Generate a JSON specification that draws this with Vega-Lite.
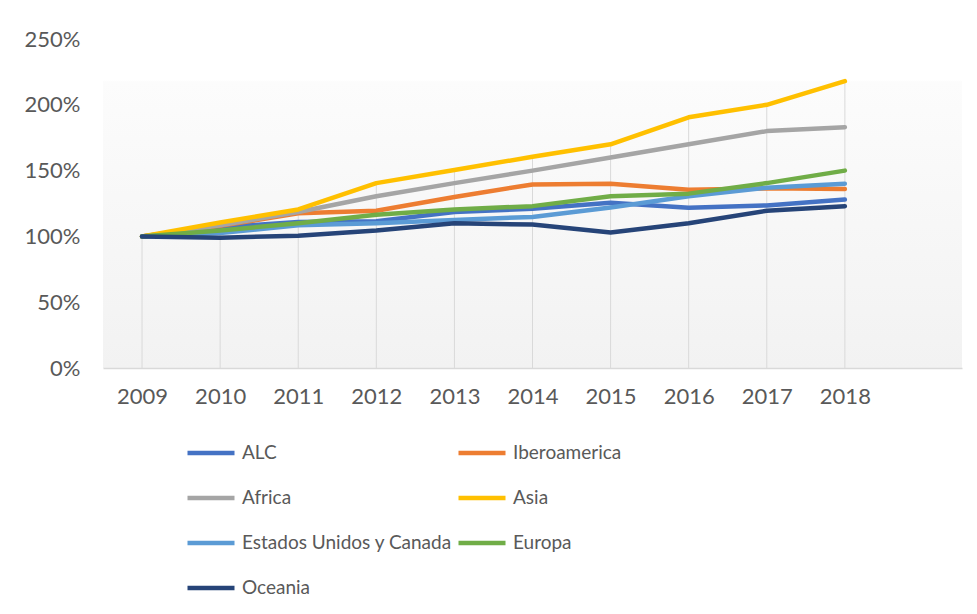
{
  "$schema": "https://vega.github.io/schema/vega-lite/v6.json",
  "width": 859,
  "height": 329,
  "autosize": {"type": "none"},
  "padding": {"left": 103, "top": 39, "right": 15, "bottom": 246},
  "background": "#ffffff",
  "config": {
    "font": "Lato",
    "view": {
      "stroke": null,
      "fill": {
        "gradient": "linear",
        "x1": 0, "y1": 0, "x2": 0, "y2": 1,
        "stops": [
          {"offset": 0, "color": "#ffffff"},
          {"offset": 0.125, "color": "#ffffff"},
          {"offset": 0.13, "color": "#fcfcfc"},
          {"offset": 1, "color": "#f2f2f2"}
        ]
      }
    }
  },
  "data": {
    "values": [
      {"region": "ALC", "year": 2009, "value": 1.00},
      {"region": "ALC", "year": 2010, "value": 1.07},
      {"region": "ALC", "year": 2011, "value": 1.11},
      {"region": "ALC", "year": 2012, "value": 1.115},
      {"region": "ALC", "year": 2013, "value": 1.185},
      {"region": "ALC", "year": 2014, "value": 1.21},
      {"region": "ALC", "year": 2015, "value": 1.255},
      {"region": "ALC", "year": 2016, "value": 1.218},
      {"region": "ALC", "year": 2017, "value": 1.235},
      {"region": "ALC", "year": 2018, "value": 1.28},
      {"region": "Iberoamerica", "year": 2009, "value": 1.00},
      {"region": "Iberoamerica", "year": 2010, "value": 1.08},
      {"region": "Iberoamerica", "year": 2011, "value": 1.175},
      {"region": "Iberoamerica", "year": 2012, "value": 1.195},
      {"region": "Iberoamerica", "year": 2013, "value": 1.30},
      {"region": "Iberoamerica", "year": 2014, "value": 1.395},
      {"region": "Iberoamerica", "year": 2015, "value": 1.40},
      {"region": "Iberoamerica", "year": 2016, "value": 1.355},
      {"region": "Iberoamerica", "year": 2017, "value": 1.365},
      {"region": "Iberoamerica", "year": 2018, "value": 1.36},
      {"region": "Africa", "year": 2009, "value": 1.00},
      {"region": "Africa", "year": 2010, "value": 1.085},
      {"region": "Africa", "year": 2011, "value": 1.185},
      {"region": "Africa", "year": 2012, "value": 1.305},
      {"region": "Africa", "year": 2013, "value": 1.405},
      {"region": "Africa", "year": 2014, "value": 1.50},
      {"region": "Africa", "year": 2015, "value": 1.60},
      {"region": "Africa", "year": 2016, "value": 1.70},
      {"region": "Africa", "year": 2017, "value": 1.80},
      {"region": "Africa", "year": 2018, "value": 1.83},
      {"region": "Asia", "year": 2009, "value": 1.00},
      {"region": "Asia", "year": 2010, "value": 1.105},
      {"region": "Asia", "year": 2011, "value": 1.205},
      {"region": "Asia", "year": 2012, "value": 1.405},
      {"region": "Asia", "year": 2013, "value": 1.505},
      {"region": "Asia", "year": 2014, "value": 1.605},
      {"region": "Asia", "year": 2015, "value": 1.70},
      {"region": "Asia", "year": 2016, "value": 1.905},
      {"region": "Asia", "year": 2017, "value": 2.00},
      {"region": "Asia", "year": 2018, "value": 2.18},
      {"region": "Estados Unidos y Canada", "year": 2009, "value": 1.00},
      {"region": "Estados Unidos y Canada", "year": 2010, "value": 1.025},
      {"region": "Estados Unidos y Canada", "year": 2011, "value": 1.085},
      {"region": "Estados Unidos y Canada", "year": 2012, "value": 1.10},
      {"region": "Estados Unidos y Canada", "year": 2013, "value": 1.125},
      {"region": "Estados Unidos y Canada", "year": 2014, "value": 1.148},
      {"region": "Estados Unidos y Canada", "year": 2015, "value": 1.22},
      {"region": "Estados Unidos y Canada", "year": 2016, "value": 1.305},
      {"region": "Estados Unidos y Canada", "year": 2017, "value": 1.37},
      {"region": "Estados Unidos y Canada", "year": 2018, "value": 1.40},
      {"region": "Europa", "year": 2009, "value": 1.00},
      {"region": "Europa", "year": 2010, "value": 1.045},
      {"region": "Europa", "year": 2011, "value": 1.10},
      {"region": "Europa", "year": 2012, "value": 1.165},
      {"region": "Europa", "year": 2013, "value": 1.205},
      {"region": "Europa", "year": 2014, "value": 1.23},
      {"region": "Europa", "year": 2015, "value": 1.305},
      {"region": "Europa", "year": 2016, "value": 1.325},
      {"region": "Europa", "year": 2017, "value": 1.405},
      {"region": "Europa", "year": 2018, "value": 1.50},
      {"region": "Oceania", "year": 2009, "value": 1.00},
      {"region": "Oceania", "year": 2010, "value": 0.99},
      {"region": "Oceania", "year": 2011, "value": 1.005},
      {"region": "Oceania", "year": 2012, "value": 1.045},
      {"region": "Oceania", "year": 2013, "value": 1.10},
      {"region": "Oceania", "year": 2014, "value": 1.09},
      {"region": "Oceania", "year": 2015, "value": 1.03},
      {"region": "Oceania", "year": 2016, "value": 1.10},
      {"region": "Oceania", "year": 2017, "value": 1.195},
      {"region": "Oceania", "year": 2018, "value": 1.23}
    ]
  },
  "layer": [
    {
      "transform": [
        {"aggregate": [{"op": "max", "field": "value", "as": "maxv"}], "groupby": ["year"]}
      ],
      "mark": {"type": "rule", "color": "#d9d9d9", "strokeWidth": 1},
      "encoding": {
        "x": {"field": "year", "type": "quantitative"},
        "y": {"field": "maxv", "type": "quantitative"},
        "y2": {"datum": 0}
      }
    },
    {
      "mark": {"type": "line", "strokeWidth": 4.5, "strokeCap": "round", "strokeJoin": "round"},
      "encoding": {
        "x": {
          "field": "year",
          "type": "quantitative",
          "scale": {"domain": [2008.5, 2019.5], "nice": false, "zero": false},
          "axis": {
            "title": null,
            "values": [2009, 2010, 2011, 2012, 2013, 2014, 2015, 2016, 2017, 2018],
            "format": "d",
            "grid": false,
            "ticks": false,
            "domain": true,
            "domainColor": "#d9d9d9",
            "domainWidth": 1.5,
            "labelFontSize": 22,
            "labelColor": "#595959",
            "labelPadding": 18,
            "labelFlush": false,
            "labelOverlap": false
          }
        },
        "y": {
          "field": "value",
          "type": "quantitative",
          "scale": {"domain": [0, 2.5], "nice": false},
          "axis": {
            "title": null,
            "values": [0, 0.5, 1, 1.5, 2, 2.5],
            "format": ".0%",
            "grid": false,
            "ticks": false,
            "domain": false,
            "labelFontSize": 22,
            "labelColor": "#595959",
            "labelPadding": 23
          }
        },
        "color": {
          "field": "region",
          "type": "nominal",
          "sort": ["ALC", "Iberoamerica", "Africa", "Asia", "Estados Unidos y Canada", "Europa", "Oceania"],
          "scale": {
            "domain": ["ALC", "Iberoamerica", "Africa", "Asia", "Estados Unidos y Canada", "Europa", "Oceania"],
            "range": ["#4472C4", "#ED7D31", "#A5A5A5", "#FFC000", "#5B9BD5", "#70AD47", "#264478"]
          },
          "legend": {
            "title": null,
            "orient": "none",
            "legendX": 82,
            "legendY": 388,
            "direction": "horizontal",
            "columns": 2,
            "symbolType": "stroke",
            "symbolSize": 2209,
            "symbolStrokeWidth": 4.5,
            "labelFontSize": 19,
            "labelColor": "#595959",
            "labelOffset": 5,
            "rowPadding": 9,
            "columnPadding": -4,
            "padding": 0,
            "labelLimit": 400
          }
        }
      }
    }
  ]
}
